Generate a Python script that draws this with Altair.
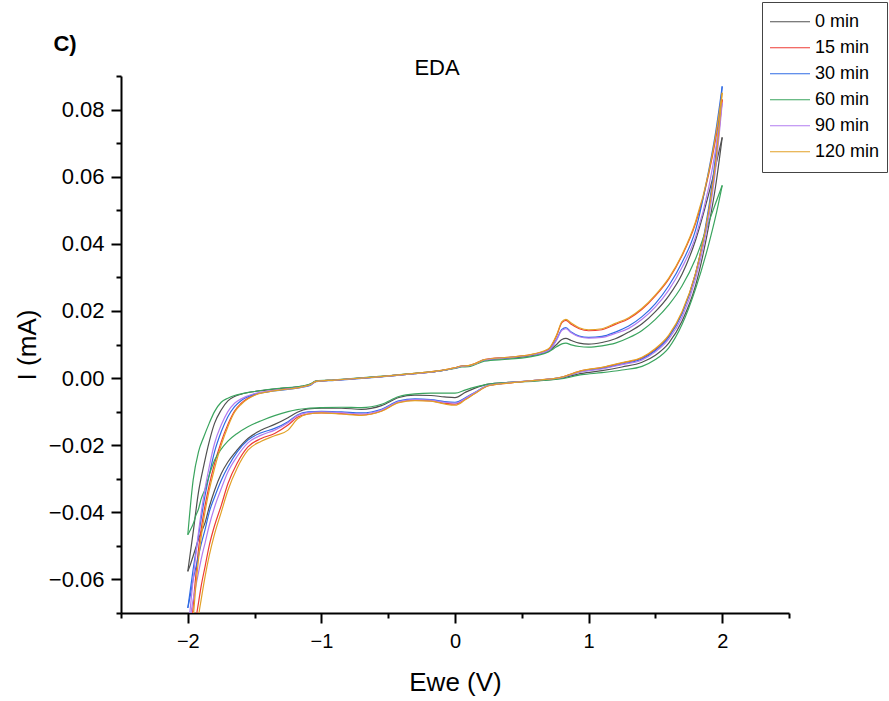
import altair as alt
import pandas as pd

SERIES = ["0 min", "15 min", "30 min", "60 min", "90 min", "120 min"]
COLORS = ["#505050", "#ee3b34", "#2f6be4", "#3aa45e", "#b27cf0", "#e2a126"]

# forward (anodic) scan potentials, V
F_X = [-2.00, -1.96, -1.92, -1.88, -1.84, -1.80, -1.75, -1.70, -1.65, -1.60, -1.50, -1.40,
       -1.30, -1.15, -1.08, -1.04, -0.90, -0.60, -0.30, -0.10, 0.00, 0.05, 0.10, 0.15, 0.22,
       0.40, 0.60, 0.70, 0.76, 0.80, 0.83, 0.87, 0.93, 1.00, 1.10, 1.20, 1.30, 1.40, 1.50,
       1.60, 1.70, 1.80, 1.90, 1.95, 2.00]

FWD_0 = [-0.0576, -0.0460, -0.0340, -0.0260, -0.0190, -0.0135, -0.0095, -0.0068, -0.0055, -0.0048, -0.0040, -0.0035,
         -0.0031, -0.0025, -0.0018, -0.0009, -0.0006, 0.0003, 0.0013, 0.0022, 0.0030, 0.0035, 0.0036, 0.0042, 0.0053,
         0.0059, 0.0069, 0.0080, 0.0100, 0.0115, 0.0118, 0.0112, 0.0104, 0.0101, 0.0106, 0.0117, 0.0137, 0.0162, 0.0198,
         0.0245, 0.0310, 0.0410, 0.0550, 0.0630, 0.0717]
FWD_15 = [-0.0920, -0.0680, -0.0510, -0.0400, -0.0320, -0.0255, -0.0190, -0.0138, -0.0098, -0.0075, -0.0050, -0.0040,
          -0.0034, -0.0026, -0.0019, -0.0010, -0.0006, 0.0003, 0.0014, 0.0023, 0.0031, 0.0036, 0.0037, 0.0043, 0.0055,
          0.0062, 0.0072, 0.0085, 0.0125, 0.0165, 0.0172, 0.0160, 0.0147, 0.0141, 0.0144, 0.0160, 0.0177, 0.0205, 0.0245,
          0.0295, 0.0365, 0.0460, 0.0610, 0.0710, 0.0830]
FWD_30 = [-0.0685, -0.0570, -0.0470, -0.0370, -0.0290, -0.0220, -0.0160, -0.0115, -0.0085, -0.0067, -0.0048, -0.0041,
          -0.0036, -0.0028, -0.0021, -0.0011, -0.0007, 0.0002, 0.0013, 0.0022, 0.0030, 0.0035, 0.0036, 0.0042, 0.0054,
          0.0061, 0.0071, 0.0082, 0.0115, 0.0145, 0.0150, 0.0137, 0.0125, 0.0121, 0.0124, 0.0137, 0.0155, 0.0183, 0.0222,
          0.0275, 0.0345, 0.0440, 0.0620, 0.0730, 0.0869]
FWD_60 = [-0.0467, -0.0304, -0.0220, -0.0175, -0.0135, -0.0100, -0.0072, -0.0060, -0.0052, -0.0047, -0.0040, -0.0034,
          -0.0030, -0.0024, -0.0017, -0.0008, -0.0005, 0.0004, 0.0014, 0.0022, 0.0029, 0.0033, 0.0034, 0.0040, 0.0050,
          0.0056, 0.0066, 0.0078, 0.0093, 0.0102, 0.0104, 0.0099, 0.0094, 0.0092, 0.0096, 0.0104, 0.0120, 0.0142, 0.0175,
          0.0218, 0.0275, 0.0355, 0.0465, 0.0520, 0.0574]
FWD_90 = [-0.0760, -0.0600, -0.0460, -0.0350, -0.0265, -0.0195, -0.0140, -0.0100, -0.0075, -0.0062, -0.0046, -0.0039,
          -0.0034, -0.0027, -0.0020, -0.0010, -0.0006, 0.0003, 0.0013, 0.0022, 0.0030, 0.0035, 0.0036, 0.0042, 0.0054,
          0.0061, 0.0071, 0.0082, 0.0113, 0.0142, 0.0147, 0.0135, 0.0123, 0.0119, 0.0121, 0.0133, 0.0148, 0.0175, 0.0212,
          0.0262, 0.0330, 0.0420, 0.0570, 0.0680, 0.0820]
FWD_120 = [-0.1000, -0.0720, -0.0540, -0.0420, -0.0335, -0.0270, -0.0200, -0.0145, -0.0102, -0.0078, -0.0051, -0.0041,
           -0.0035, -0.0027, -0.0019, -0.0010, -0.0006, 0.0003, 0.0014, 0.0023, 0.0031, 0.0036, 0.0037, 0.0043, 0.0055,
           0.0062, 0.0073, 0.0087, 0.0128, 0.0168, 0.0175, 0.0164, 0.0150, 0.0144, 0.0147, 0.0163, 0.0180, 0.0208, 0.0248,
           0.0298, 0.0368, 0.0465, 0.0615, 0.0720, 0.0850]

# reverse (cathodic) scan potentials, V
R_X = [-2.00, -1.98, -1.96, -1.94, -1.92, -1.90, -1.87, -1.84, -1.80, -1.75, -1.70, -1.63, -1.55,
       -1.45, -1.35, -1.25, -1.18, -1.10, -1.00, -0.85, -0.70, -0.55, -0.42, -0.30, -0.18, -0.08,
       0.00, 0.08, 0.15, 0.25, 0.40, 0.60, 0.80, 0.95, 1.10, 1.25, 1.40, 1.50, 1.60, 1.70, 1.80,
       1.90, 1.95, 2.00]

REV_0 = [-0.0576, -0.0555, -0.0530, -0.0505, -0.0480, -0.0460, -0.0430, -0.0385, -0.0335, -0.0285, -0.0250, -0.0214, -0.0180,
         -0.0155, -0.0138, -0.0118, -0.0102, -0.0092, -0.0090, -0.0090, -0.0093, -0.0082, -0.0058, -0.0051, -0.0052, -0.0056,
         -0.0058, -0.0042, -0.0030, -0.0018, -0.0013, -0.0008, 0.0000, 0.0014, 0.0022, 0.0033, 0.0047, 0.0068, 0.0104, 0.0170, 0.0275,
         0.0455, 0.0570, 0.0717]
REV_15 = [-0.0920, -0.0850, -0.0780, -0.0720, -0.0670, -0.0620, -0.0560, -0.0500, -0.0440, -0.0380, -0.0315, -0.0253, -0.0205,
          -0.0180, -0.0165, -0.0140, -0.0117, -0.0107, -0.0104, -0.0106, -0.0110, -0.0098, -0.0072, -0.0066, -0.0068, -0.0075,
          -0.0078, -0.0062, -0.0045, -0.0023, -0.0015, -0.0007, 0.0003, 0.0022, 0.0031, 0.0045, 0.0060, 0.0085, 0.0125, 0.0195, 0.0310,
          0.0500, 0.0640, 0.0830]
REV_30 = [-0.0685, -0.0645, -0.0600, -0.0565, -0.0530, -0.0495, -0.0450, -0.0400, -0.0355, -0.0305, -0.0265, -0.0220, -0.0185,
          -0.0163, -0.0150, -0.0130, -0.0110, -0.0101, -0.0099, -0.0101, -0.0104, -0.0093, -0.0068, -0.0062, -0.0064, -0.0070,
          -0.0072, -0.0058, -0.0042, -0.0022, -0.0014, -0.0007, 0.0002, 0.0020, 0.0029, 0.0042, 0.0057, 0.0082, 0.0122, 0.0192, 0.0310,
          0.0510, 0.0660, 0.0869]
REV_60 = [-0.0467, -0.0452, -0.0435, -0.0410, -0.0390, -0.0360, -0.0330, -0.0290, -0.0245, -0.0212, -0.0188, -0.0165, -0.0145,
          -0.0127, -0.0112, -0.0100, -0.0094, -0.0090, -0.0088, -0.0087, -0.0088, -0.0078, -0.0055, -0.0047, -0.0045, -0.0045,
          -0.0045, -0.0035, -0.0027, -0.0018, -0.0013, -0.0009, -0.0002, 0.0010, 0.0016, 0.0024, 0.0035, 0.0055, 0.0090, 0.0160, 0.0265,
          0.0400, 0.0480, 0.0574]
REV_90 = [-0.0760, -0.0710, -0.0660, -0.0620, -0.0580, -0.0540, -0.0490, -0.0440, -0.0385, -0.0330, -0.0280, -0.0233, -0.0193,
          -0.0170, -0.0155, -0.0133, -0.0112, -0.0103, -0.0101, -0.0103, -0.0107, -0.0095, -0.0070, -0.0064, -0.0066, -0.0072,
          -0.0075, -0.0060, -0.0043, -0.0022, -0.0014, -0.0007, 0.0002, 0.0019, 0.0027, 0.0040, 0.0054, 0.0078, 0.0116, 0.0182, 0.0295,
          0.0480, 0.0620, 0.0820]
REV_120 = [-0.1000, -0.0920, -0.0840, -0.0770, -0.0710, -0.0660, -0.0590, -0.0530, -0.0465, -0.0400, -0.0335, -0.0268, -0.0215,
           -0.0188, -0.0172, -0.0155, -0.0122, -0.0107, -0.0104, -0.0107, -0.0111, -0.0099, -0.0073, -0.0067, -0.0069, -0.0077,
           -0.0081, -0.0064, -0.0046, -0.0023, -0.0015, -0.0007, 0.0003, 0.0022, 0.0032, 0.0046, 0.0062, 0.0088, 0.0128, 0.0198, 0.0312,
           0.0500, 0.0640, 0.0850]

FWD = [FWD_0, FWD_15, FWD_30, FWD_60, FWD_90, FWD_120]
REV = [REV_0, REV_15, REV_30, REV_60, REV_90, REV_120]

X_TICKS = [-2.5, -2.0, -1.5, -1.0, -0.5, 0.0, 0.5, 1.0, 1.5, 2.0, 2.5]
Y_TICKS = [-0.07, -0.06, -0.05, -0.04, -0.03, -0.02, -0.01, 0.0, 0.01, 0.02, 0.03,
           0.04, 0.05, 0.06, 0.07, 0.08, 0.09]

rows = []
for k, name in enumerate(SERIES):
    for x, y in zip(F_X, FWD[k]):
        rows.append({"series": name, "branch": "fwd", "E": x, "I": y})
    for x, y in zip(R_X, REV[k]):
        rows.append({"series": name, "branch": "rev", "E": x, "I": y})
df = pd.DataFrame(rows)

FONT = "Liberation Sans"

x_axis = alt.Axis(
    values=X_TICKS, format=".0f",
    labelExpr="datum.value % 1 != 0 ? '' : datum.label",
    title="Ewe (V)", titleFontSize=26, titleFont=FONT, titleFontWeight="normal",
    titleColor="black", titlePadding=18,
    labelFont=FONT, labelFontSize=20, labelColor="black", labelPadding=8,
    labelOverlap=False, labelFlush=False,
    domainColor="black", domainWidth=2, tickColor="black", tickWidth=2,
    tickSize={"condition": {"test": "datum.value % 1 != 0", "value": 5}, "value": 10},
    grid=False,
)
y_axis = alt.Axis(
    values=Y_TICKS, format=".2f",
    labelExpr="abs(round(datum.value * 100)) % 2 == 1 ? '' : datum.label",
    title="I (mA)", titleFontSize=26, titleFont=FONT, titleFontWeight="normal",
    titleColor="black", titlePadding=8,
    labelFont=FONT, labelFontSize=22, labelColor="black", labelPadding=7,
    labelOverlap=False, labelFlush=False,
    domainColor="black", domainWidth=2, tickColor="black", tickWidth=2,
    tickSize={"condition": {"test": "abs(round(datum.value * 100)) % 2 == 1", "value": 5}, "value": 10},
    grid=False,
)

lines = alt.Chart(df).mark_line(strokeWidth=1.2, clip=True, interpolate="monotone").encode(
    x=alt.X("E:Q", scale=alt.Scale(domain=[-2.5, 2.5], nice=False, zero=False), axis=x_axis),
    y=alt.Y("I:Q", scale=alt.Scale(domain=[-0.07, 0.09], nice=False, zero=False), axis=y_axis),
    color=alt.Color(
        "series:N", sort=SERIES,
        scale=alt.Scale(domain=SERIES, range=COLORS),
        legend=alt.Legend(
            title=None, orient="none", legendX=641, legendY=-74,
            symbolType="stroke", symbolSize=1600, symbolStrokeWidth=1.2,
            clipHeight=25.5, rowPadding=0,
            labelFont=FONT, labelFontSize=18, labelColor="black", labelOffset=4,
            strokeColor="#444444", fillColor="white", padding=7, cornerRadius=0,
        ),
    ),
    detail="branch:N",
    order="E:Q",
)

title_txt = alt.Chart(pd.DataFrame({"t": ["EDA"]})).mark_text(
    font=FONT, fontSize=22, color="black", align="center", baseline="middle"
).encode(text="t:N", x=alt.value(316), y=alt.value(-8))

panel_txt = alt.Chart(pd.DataFrame({"t": ["C)"]})).mark_text(
    font=FONT, fontSize=22, fontWeight="bold", color="black", align="center", baseline="middle"
).encode(text="t:N", x=alt.value(-56), y=alt.value(-32))

chart = alt.layer(lines, title_txt, panel_txt).properties(
    width=668, height=537,
    background="white",
    autosize=alt.AutoSizeParams(type="none"),
    padding={"left": 121, "top": 76, "right": 100, "bottom": 88},
).configure_view(stroke=None)

chart.save("out.html", embed_options={"renderer": "svg", "actions": False})
